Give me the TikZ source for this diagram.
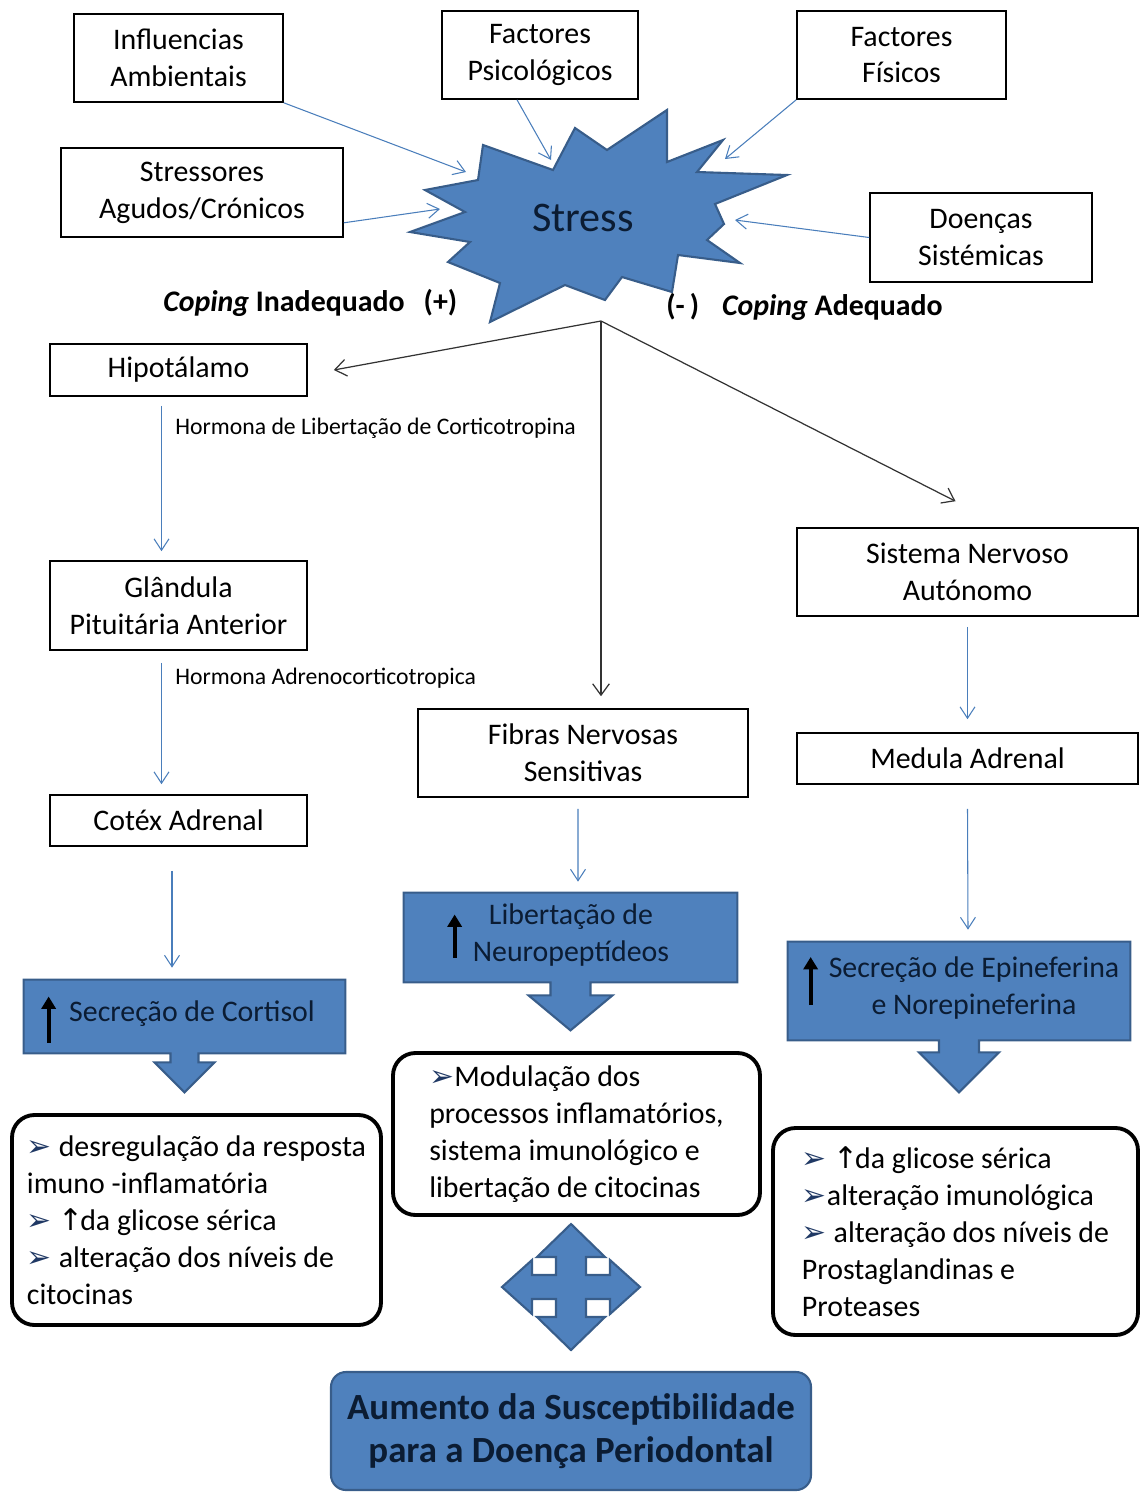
\documentclass[tikz,border=0pt]{standalone}
\usepackage{fontspec}
\setmainfont{Carlito}
\newfontfamily\dejavu{DejaVu Sans}
\usetikzlibrary{arrows.meta,calc}

\definecolor{boxblue}{HTML}{4F81BD}
\definecolor{boxedge}{HTML}{385D8A}
\definecolor{linkblue}{HTML}{4A7EBB}
\definecolor{navytext}{HTML}{0B1C33}
\definecolor{bulletblue}{HTML}{1F3864}

\newcommand{\pu}{0.02cm}
\newcommand{\bul}{{\dejavu\fontsize{17}{17}\selectfont\color{bulletblue}➢}}
\newcommand{\upa}{{\dejavu ↑}\hspace{-2pt}}
% box name, stem half width, stem length, head half width, tip depth
\newcommand{\callout}[5]{%
  \path[calloutline] (#1.north west) -- (#1.north east) -- (#1.south east)
    -- ($(#1.south)+(#2,0)$) -- ($(#1.south)+(#2,#3)$) -- ($(#1.south)+(#4,#3)$)
    -- ($(#1.south)+(0,#5)$)
    -- ($(#1.south)+(-#4,#3)$) -- ($(#1.south)+(-#2,#3)$) -- ($(#1.south)+(-#2,0)$)
    -- (#1.south west) -- cycle;}

\tikzset{
  boxsize/.style 2 args={minimum width=#1*\pu, minimum height=#2*\pu},
  plainbox/.style={draw=black, line width=0.9pt, fill=white, inner sep=0pt,
    align=center, font=\fontsize{17}{21}\selectfont},
  bluebase/.style={inner sep=0pt},
  calloutline/.style={draw=boxedge, line width=1.2pt, fill=boxblue, line join=miter},
  bluetext/.style={align=center, text=navytext, font=\fontsize{17}{21}\selectfont},
  resultbox/.style={draw=black, line width=2.2pt, fill=white, rounded corners=0.45cm,
    inner sep=0pt, align=left, font=\fontsize{17}{21}\selectfont},
  finalbox/.style={draw=boxedge, line width=1.2pt, fill=boxblue, rounded corners=0.3cm,
    align=center, text=navytext, font=\fontsize{21}{24.5}\selectfont\bfseries},
  hormone/.style={anchor=west, inner sep=0pt, font=\fontsize{13.5}{16}\selectfont},
  coping/.style={anchor=west, inner sep=0pt, font=\fontsize{17}{21}\selectfont\bfseries},
  link/.style={draw=linkblue, line width=0.6pt, -{Straight Barb[length=6.5pt,width=8.5pt]}},
  branch/.style={draw=black!80, line width=0.7pt, -{Straight Barb[length=6.5pt,width=9.5pt]}},
  bigup/.style={line width=2.2pt, -{Triangle[length=7pt,width=8pt]}},
  blockarrow/.style={draw=boxedge, line width=1.2pt, fill=boxblue, line join=miter}
}

\begin{document}
\begin{tikzpicture}[x=0.02cm, y=-0.02cm]
\useasboundingbox (0,0) rectangle (1140,1492);

% Stress burst
\path[blockarrow] (483,145) -- (553,170) -- (575,128) -- (607,150) -- (667,110) -- (667,162)
  -- (723,140) -- (697,172) -- (787,175) -- (715,204) -- (724,224) -- (707,240) -- (740,263)
  -- (678,255) -- (672,292) -- (622,277) -- (605,300) -- (565,285) -- (490,322) -- (500,283)
  -- (448,262) -- (470,242) -- (410,232) -- (465,212) -- (425,190) -- (478,180) -- cycle;
\node[text=navytext, font=\fontsize{24}{28}\selectfont] (stress) at (583,218) {Stress};
\coordinate (hitA) at (466,172);
\coordinate (hitB) at (551,160);
\coordinate (hitC) at (725,159);
\coordinate (hitD) at (440,209);
\coordinate (hitE) at (735,220);
\coordinate (split) at (601,321);

% Causes
\node[plainbox, boxsize={209}{88}] (infl) at (178.5,58) {Influencias\\Ambientais};
\node[plainbox, boxsize={196}{88}] (psic) at (540,55) {Factores\\Psicológicos};
\node[plainbox, boxsize={209}{88}] (fis) at (901.5,55) {Factores\\Físicos};
\node[plainbox, boxsize={282}{89}] (stre) at (202,192.5) {Stressores\\Agudos/Crónicos};
\node[plainbox, boxsize={222}{89}] (doen) at (981,237.5) {Doenças\\Sistémicas};

\draw[link] (infl.south east) -- (hitA);
\draw[link] ($(psic.south)+(-23,0)$) -- (hitB);
\draw[link] (fis.south west) -- (hitC);
\draw[link] ($(stre.south east)+(0,-15)$) -- (hitD);
\draw[link] (doen.west) -- (hitE);

% Coping
\node[coping] (copneg) at (163,303) {\textit{Coping} Inadequado\hspace{0.38cm}(+)};
\node[coping] (coppos) at (666,307) {(-\,)\hspace{0.46cm}\textit{Coping} Adequado};

% Left column
\node[plainbox, boxsize={257}{52}] (hipo) at (178.5,370) {Hipotálamo};
\node[plainbox, boxsize={257}{89}] (glan) at (178.5,605.5) {Glândula\\Pituitária Anterior};
\node[plainbox, boxsize={257}{51}] (cortex) at (178.5,820.5) {Cotéx Adrenal};
\node[hormone] (crh) at (175,428) {Hormona de Libertação de Corticotropina};
\node[hormone] (acth) at (175,678) {Hormona Adrenocorticotropica};

% Middle and right columns
\node[plainbox, boxsize={330}{88}] (fibras) at (583,753) {Fibras Nervosas\\Sensitivas};
\node[plainbox, boxsize={341}{88}] (sna) at (967.5,572) {Sistema Nervoso\\Autónomo};
\node[plainbox, boxsize={341}{51}] (medula) at (967.5,758.5) {Medula Adrenal};

\draw[branch] (split) -- ($(hipo.east)+(26,0)$);
\draw[branch] (split) -- ($(split |- fibras.north)+(0,-12)$);
\draw[branch] (split) -- ($(sna.north)+(-12,-26)$);

% Blue callouts
\node[bluebase, boxsize={321}{73}] (cortisol) at (184.5,1016.5) {};
\callout{cortisol}{14}{9}{30}{39}
\node[bluebase, boxsize={333}{89}] (neuro) at (570.5,937.5) {};
\callout{neuro}{20}{13}{42}{48}
\node[bluebase, boxsize={342}{98}] (epi) at (959,991) {};
\callout{epi}{20}{12}{40}{52}

\node[bluetext] (cortisoltxt) at (192,1014) {Secreção de Cortisol};
\node[bluetext] (neurotxt) at (571,935) {Libertação de\\Neuropeptídeos};
\node[bluetext] (epitxt) at (974,988) {Secreção de Epineferina\\e Norepineferina};

\draw[bigup] ($(cortisol.west)+(25,26)$) -- ($(cortisol.west)+(25,-20)$);
\draw[bigup] ($(neuro.west)+(51,20)$) -- ($(neuro.west)+(51,-23)$);
\draw[bigup] ($(epi.west)+(23,14)$) -- ($(epi.west)+(23,-34)$);

\draw[link] ($(hipo.south)+(-17,9)$) -- ($(glan.north)+(-17,-9)$);
\draw[link] ($(glan.south)+(-17,12)$) -- ($(cortex.north)+(-17,-10)$);
\draw[link] ($(cortex.south)+(-6.5,24)$) -- ($(cortisol.north)+(-12.5,-12)$);
\draw[link] ($(fibras.south)+(-5,11)$) -- ($(neuro.north)+(7.5,-11)$);
\draw[link] ($(sna.south)+(0,10)$) -- ($(medula.north)+(0,-13)$);
\draw[link] ($(medula.south)+(0,24)$) -- ($(epi.north)+(9,-12)$);

% Effects
\node[resultbox, boxsize={369}{210}] (resL) at (196.5,1220)
  {\bul\ desregulação da resposta\\imuno -inflamatória\\\bul\ \upa da glicose sérica\\\bul\ alteração dos níveis de\\citocinas};
\node[resultbox, boxsize={367}{162}] (resM) at (576.5,1134)
  {\bul Modulação dos\\processos inflamatórios,\\sistema imunológico e\\libertação de citocinas};
\node[resultbox, boxsize={365}{207}] (resR) at (955.5,1231.5)
  {\bul\ \upa da glicose sérica\\\bul alteração imunológica\\\bul\ alteração dos níveis de\\Prostaglandinas e\\Proteases};

% Four-way arrow
\path[blockarrow, shift={(571,1287)}] (0,-63) -- (34,-30) -- (15,-30) -- (15,-12) -- (39,-12)
  -- (39,-27) -- (69,0) -- (39,27) -- (39,12) -- (15,12) -- (15,30) -- (34,30) -- (0,63)
  -- (-34,30) -- (-15,30) -- (-15,12) -- (-39,12) -- (-39,27) -- (-69,0) -- (-39,-27)
  -- (-39,-12) -- (-15,-12) -- (-15,-30) -- (-34,-30) -- cycle;

\node[finalbox, boxsize={480}{118}] (final) at (571,1431)
  {Aumento da Susceptibilidade\\para a Doença Periodontal};
\end{tikzpicture}
\end{document}
